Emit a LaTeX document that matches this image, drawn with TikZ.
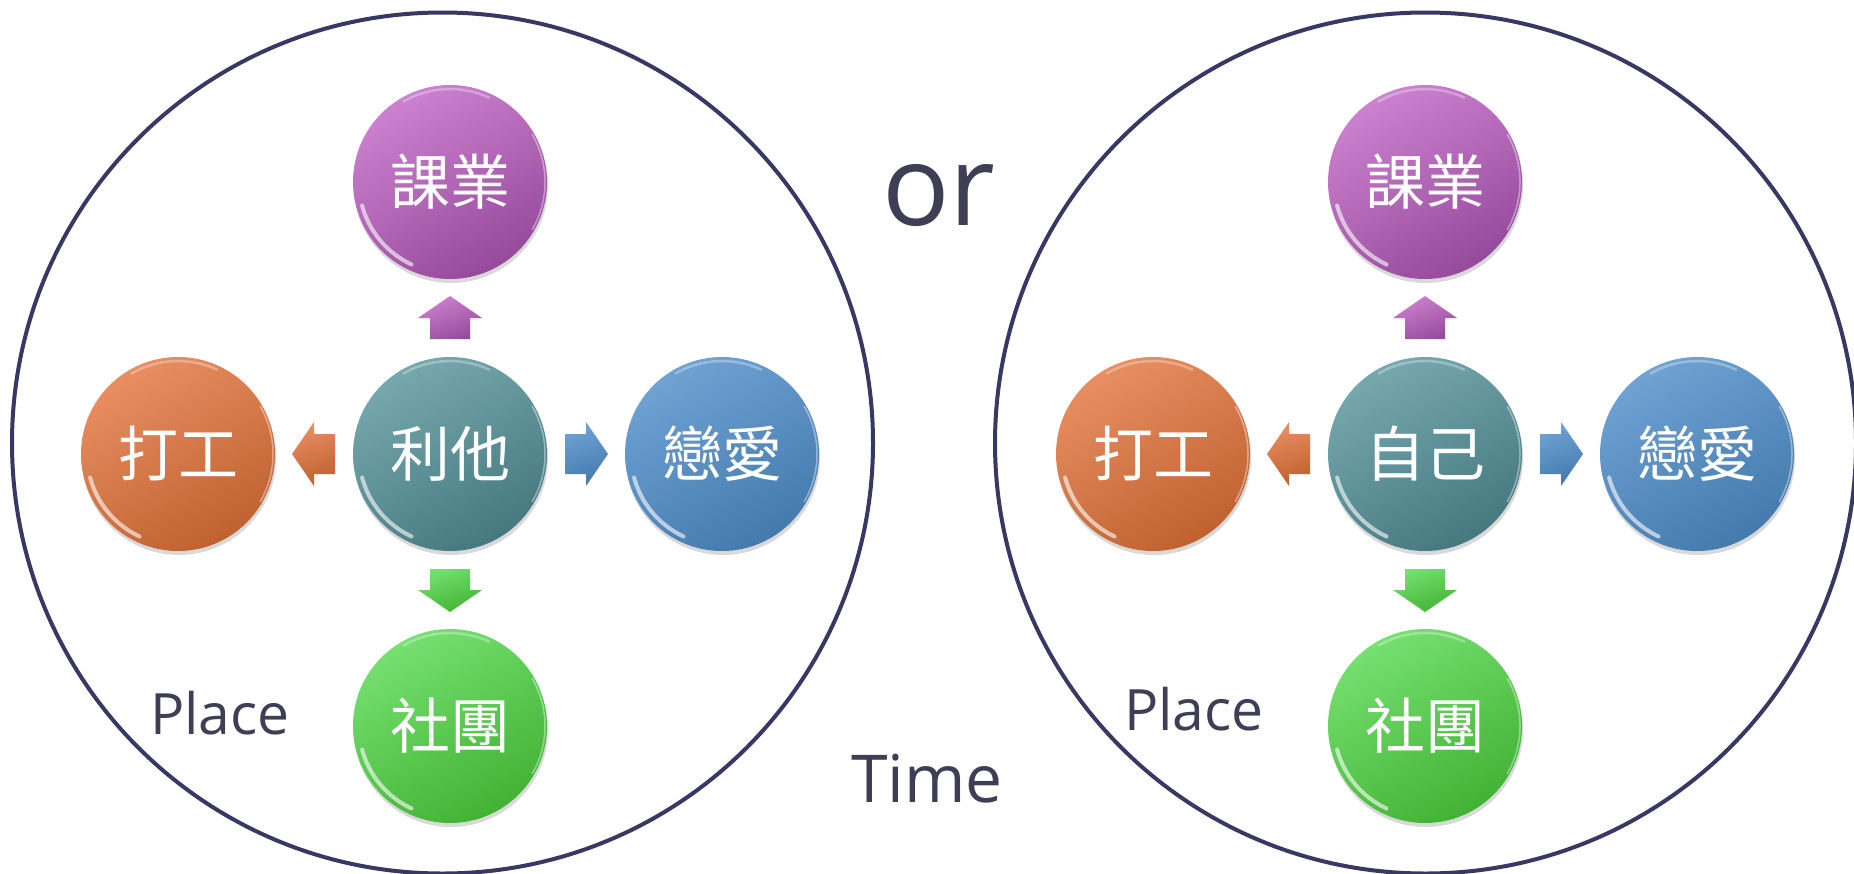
\documentclass[tikz,border=0pt]{standalone}
\usepackage{fontspec}
\setmainfont{Open Sans}
\newfontfamily\cjkfont{Noto Sans CJK TC}
\usetikzlibrary{calc,shadows}
\definecolor{ringc}{RGB}{56,56,100}
\definecolor{txtc}{RGB}{62,62,84}
\definecolor{purL}{RGB}{204,130,208}
\definecolor{purD}{RGB}{150,74,156}
\definecolor{teaL}{RGB}{118,168,174}
\definecolor{teaD}{RGB}{70,120,128}
\definecolor{oraL}{RGB}{232,142,98}
\definecolor{oraD}{RGB}{192,98,48}
\definecolor{bluL}{RGB}{112,162,212}
\definecolor{bluD}{RGB}{68,122,172}
\definecolor{greL}{RGB}{118,224,112}
\definecolor{greD}{RGB}{66,178,52}
\newcommand\mygloss[1]{%
  \draw[white,opacity=0.6,line width=4pt,line cap=round]
    ([shift={(195:91pt)}]#1.center) arc[start angle=195,end angle=245,radius=91pt];
  \draw[white,opacity=0.3,line width=2.5pt,line cap=round]
    ([shift={(65:93pt)}]#1.center) arc[start angle=65,end angle=120,radius=93pt];
  \draw[white,opacity=0.4,line width=1.5pt,line cap=round]
    ([shift={(-30:95pt)}]#1.center) arc[start angle=-30,end angle=30,radius=95pt];
}
\begin{document}
\begin{tikzpicture}[x=1pt,y=-1pt,
  bubble/.style 2 args={circle, minimum size=194pt, inner sep=0pt, text=white,
    font=\cjkfont\fontsize{60}{60}\selectfont,
    top color=#1, bottom color=#2, shading angle=30,
    drop shadow={shadow xshift=1pt, shadow yshift=-4pt, opacity=0.15, fill=black}},
  blockarrow/.style 2 args={top color=#1, bottom color=#2, shading angle=20, draw=none},
  ring/.style={draw=ringc, line width=4pt},
  lbl/.style={text=txtc, inner sep=0pt, anchor=base west}]
\fill[white] (0,0) rectangle (1854,873);
\useasboundingbox (0,0) rectangle (1854,873);
\clip (0,0) rectangle (1854,873);

% big rings
\node[ring, circle, minimum size=861pt, inner sep=0pt] (ringL) at (442.5,443) {};
\node[ring, circle, minimum size=861pt, inner sep=0pt] (ringR) at (1425.5,443) {};

% left group
\node[bubble={teaL}{teaD}] (c1) at (450,454) {利他};
\node[bubble={purL}{purD}] (t1) at (450,182) {課業};
\node[bubble={greL}{greD}] (b1) at (450,726) {社團};
\node[bubble={oraL}{oraD}] (l1) at (178,454) {打工};
\node[bubble={bluL}{bluD}] (r1) at (722,454) {戀愛};

% right group
\node[bubble={teaL}{teaD}] (c2) at (1425,454) {自己};
\node[bubble={purL}{purD}] (t2) at (1425,182) {課業};
\node[bubble={greL}{greD}] (b2) at (1425,726) {社團};
\node[bubble={oraL}{oraD}] (l2) at (1153,454) {打工};
\node[bubble={bluL}{bluD}] (r2) at (1697,454) {戀愛};

\foreach \n in {c1,t1,b1,l1,r1,c2,t2,b2,l2,r2} {\mygloss{\n}}

% block arrows
\path[blockarrow={purL}{purD}, shift={($(c1)!0.5!(t1)$)}, rotate=90]
  (-21,-20) -- (0,-20) -- (0,-32) -- (22,0) -- (0,32) -- (0,20) -- (-21,20) -- cycle;
\path[blockarrow={greL}{greD}, shift={($(c1)!0.5!(b1)$)}, rotate=-90]
  (-21,-20) -- (0,-20) -- (0,-32) -- (22,0) -- (0,32) -- (0,20) -- (-21,20) -- cycle;
\path[blockarrow={oraL}{oraD}, shift={($(c1)!0.5!(l1)$)}, rotate=180]
  (-21,-20) -- (0,-20) -- (0,-32) -- (22,0) -- (0,32) -- (0,20) -- (-21,20) -- cycle;
\path[blockarrow={bluL}{bluD}, shift={($(c1)!0.5!(r1)$)}]
  (-21,-20) -- (0,-20) -- (0,-32) -- (22,0) -- (0,32) -- (0,20) -- (-21,20) -- cycle;

\path[blockarrow={purL}{purD}, shift={($(c2)!0.5!(t2)$)}, rotate=90]
  (-21,-20) -- (0,-20) -- (0,-32) -- (22,0) -- (0,32) -- (0,20) -- (-21,20) -- cycle;
\path[blockarrow={greL}{greD}, shift={($(c2)!0.5!(b2)$)}, rotate=-90]
  (-21,-20) -- (0,-20) -- (0,-32) -- (22,0) -- (0,32) -- (0,20) -- (-21,20) -- cycle;
\path[blockarrow={oraL}{oraD}, shift={($(c2)!0.5!(l2)$)}, rotate=180]
  (-21,-20) -- (0,-20) -- (0,-32) -- (22,0) -- (0,32) -- (0,20) -- (-21,20) -- cycle;
\path[blockarrow={bluL}{bluD}, shift={($(c2)!0.5!(r2)$)}]
  (-21,-20) -- (0,-20) -- (0,-32) -- (22,0) -- (0,32) -- (0,20) -- (-21,20) -- cycle;

% labels
\node[lbl, font=\fontsize{112}{112}\selectfont] (or) at (882,225) {or};
\node[lbl, font=\fontsize{66}{66}\selectfont] (time) at (851,802) {Time};
\node[lbl, font=\fontsize{57}{57}\selectfont] (placeL) at (150,734) {Place};
\node[lbl, font=\fontsize{57}{57}\selectfont] (placeR) at (1124,730) {Place};
\end{tikzpicture}
\end{document}
